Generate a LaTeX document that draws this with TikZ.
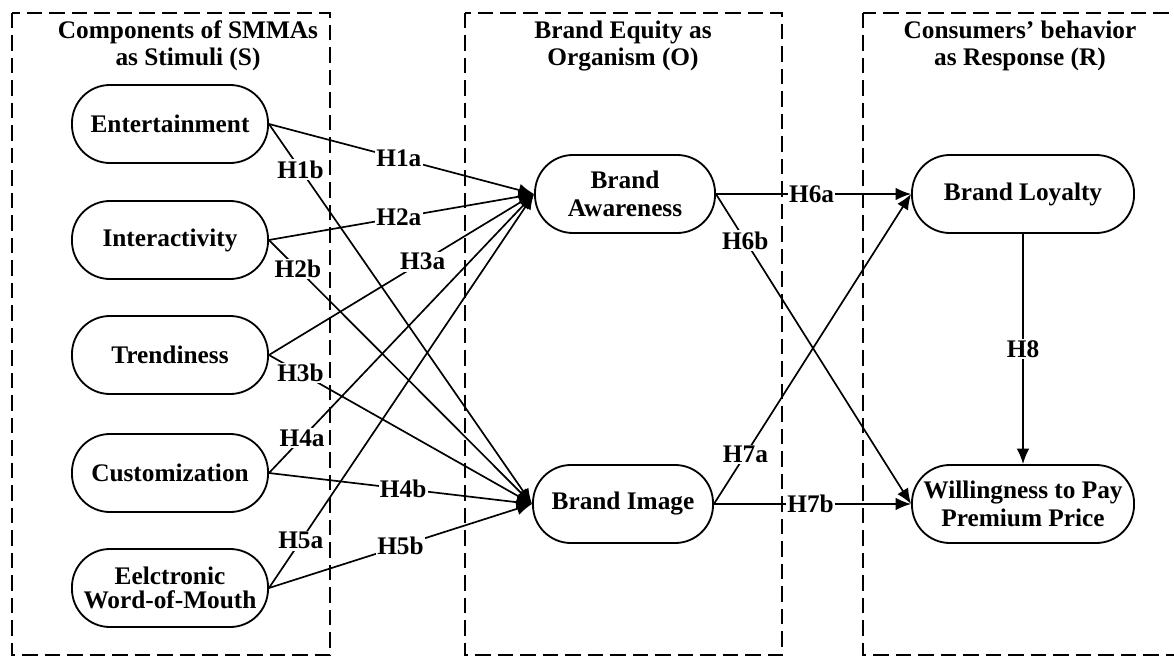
\documentclass[tikz,border=0pt]{standalone}
\usepackage{fontspec}
\setmainfont{Liberation Serif}
\usetikzlibrary{arrows.meta}
\begin{document}
\begin{tikzpicture}[x=0.025cm,y=-0.025cm,
  every node/.style={font=\fontsize{18}{19.5}\selectfont\bfseries},
  construct/.style={draw,line width=1.3pt,rounded corners=0.95cm,minimum height=1.95cm,align=center,inner sep=2pt},
  hyp/.style={-{Latex[length=11pt,width=9pt]},line width=1.2pt},
  tag/.style={fill=white,inner sep=1pt},
  frame/.style={dash pattern=on 11pt off 5pt,line width=1.4pt}]
\useasboundingbox (0,0) rectangle (1174,657);
% dashed panels
\draw[frame] (12,13) rectangle (330,655);
\draw[frame] (465,13) rectangle (782,655);
\draw[frame] (863,13) rectangle (1195,655);
\node[align=center] (ttlS) at (188,46) {Components of SMMAs\\as Stimuli (S)};
\node[align=center] (ttlO) at (623,46) {Brand Equity as\\Organism (O)};
\node[align=center] (ttlR) at (1020,46) {Consumers’ behavior\\as Response (R)};
% stimuli
\node[construct,minimum width=4.9cm] (ent) at (170,124) {Entertainment};
\node[construct,minimum width=4.9cm] (inter) at (170,240) {Interactivity};
\node[construct,minimum width=4.9cm] (trend) at (170,355) {Trendiness};
\node[construct,minimum width=4.9cm] (cust) at (170,473) {Customization};
\node[construct,minimum width=4.9cm,font=\fontsize{18}{17}\selectfont\bfseries] (ewom) at (170,588) {Eelctronic\\Word-of-Mouth};
% organism
\node[construct,minimum width=4.5cm] (aware) at (625,194) {Brand\\Awareness};
\node[construct,minimum width=4.5cm] (image) at (623,504) {Brand Image};
% response
\node[construct,minimum width=5.55cm] (loyal) at (1023,194) {Brand Loyalty};
\node[construct,minimum width=5.55cm] (wtp) at (1023,504) {Willingness to Pay\\Premium Price};
% paths
\draw[hyp] (ent.east) -- node[tag,pos=.49] {H1a} (aware.west);
\draw[hyp] (ent.east) -- node[tag,pos=.12] {H1b} (image.west);
\draw[hyp] (inter.east) -- node[tag,pos=.49] {H2a} (aware.west);
\draw[hyp] (inter.east) -- node[tag,pos=.11] {H2b} (image.west);
\draw[hyp] (trend.east) -- node[tag,pos=.58] {H3a} (aware.west);
\draw[hyp] (trend.east) -- node[tag,pos=.12] {H3b} (image.west);
\draw[hyp] (cust.east) -- node[tag,pos=.125] {H4a} (aware.west);
\draw[hyp] (cust.east) -- node[tag,pos=.51] {H4b} (image.west);
\draw[hyp] (ewom.east) -- node[tag,pos=.12] {H5a} (aware.west);
\draw[hyp] (ewom.east) -- node[tag,pos=.5] {H5b} (image.west);
\draw[hyp] (aware.east) -- node[tag,pos=.49] {H6a} (loyal.west);
\draw[hyp] (aware.east) -- node[tag,pos=.15] {H6b} (wtp.west);
\draw[hyp] (image.east) -- node[tag,pos=.16] {H7a} (loyal.west);
\draw[hyp] (image.east) -- node[tag,pos=.49] {H7b} (wtp.west);
\draw[hyp] (loyal.south) -- node[tag,pos=.5] {H8} (wtp.north);
\end{tikzpicture}
\end{document}
